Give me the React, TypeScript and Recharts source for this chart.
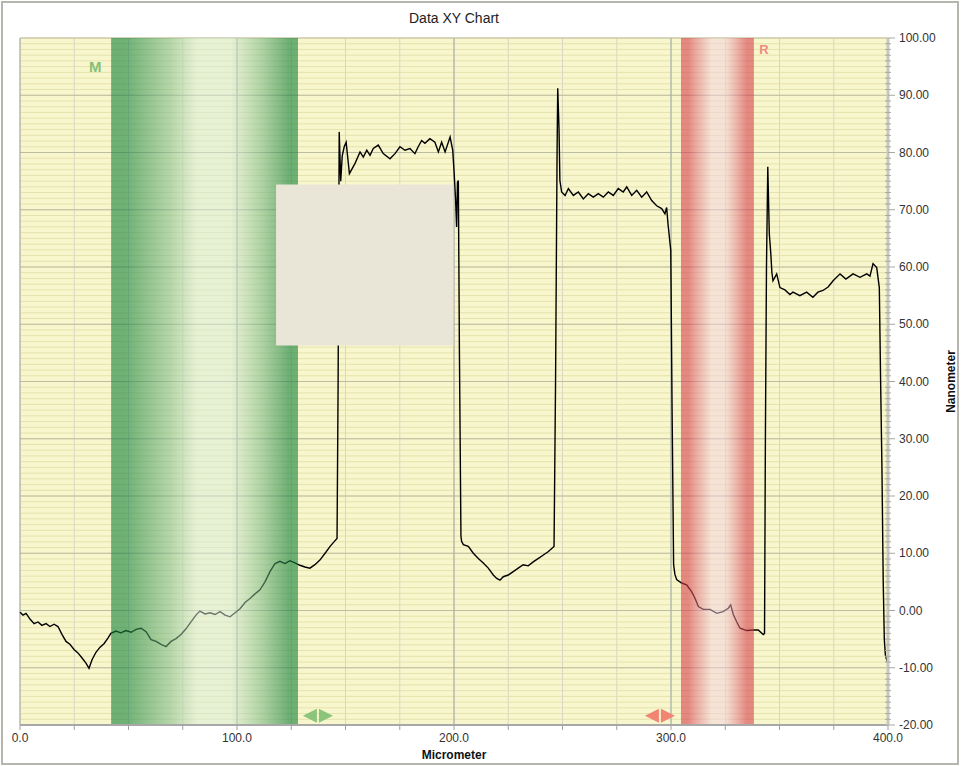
import { LineChart, Line, XAxis, YAxis, CartesianGrid, ReferenceArea, ReferenceDot } from "recharts";

// profile trace
const distance = [
  0.0, 1.4, 2.8, 4.6, 6.5, 8.3, 10.1, 12.0, 13.8, 15.7, 17.5, 19.4, 21.2, 23.0, 24.9, 26.7, 28.6, 30.4, 31.8, 33.2,
  35.0, 36.9, 38.7, 40.6, 41.9, 44.2, 46.5, 48.8, 51.2, 53.5, 55.8, 58.1, 60.4, 62.7, 65.0, 67.3, 69.6, 71.9, 74.2, 76.5,
  78.8, 81.1, 82.9, 85.3, 87.6, 89.9, 92.2, 94.5, 96.8, 99.1, 101.4, 103.7, 106.0, 108.3, 110.6, 112.9, 115.2, 117.5, 119.8, 122.1,
  124.4, 126.7, 129.0, 131.3, 133.6, 135.9, 138.2, 140.6, 142.9, 145.2, 146.1, 146.6, 147.1, 147.8, 148.5, 149.4, 150.3, 151.8, 154.4, 156.7,
  158.2, 159.8, 161.3, 162.8, 165.1, 167.4, 170.5, 172.8, 175.1, 177.4, 179.7, 182.0, 183.5, 185.1, 186.6, 188.9, 191.2, 192.8, 194.3, 195.9,
  198.2, 199.4, 200.0, 200.7, 201.2, 201.6, 202.0, 202.5, 203.2, 203.5, 204.3, 206.6, 208.9, 211.2, 213.5, 215.8, 218.1, 219.7, 221.2, 222.7,
  225.0, 227.3, 229.6, 231.9, 234.2, 236.5, 238.9, 241.2, 243.5, 245.3, 246.1, 246.8, 247.5, 247.8, 248.4, 248.8, 249.6, 251.2, 252.7, 255.0,
  257.3, 259.6, 261.9, 264.2, 266.5, 268.8, 271.1, 273.4, 275.7, 278.0, 279.6, 281.9, 284.2, 286.5, 288.8, 291.1, 293.4, 295.7, 297.2, 298.0,
  298.6, 299.9, 300.5, 301.2, 301.8, 302.6, 304.9, 307.2, 309.5, 311.1, 312.6, 314.9, 318.0, 321.1, 324.0, 326.4, 327.5, 328.7, 330.3, 331.8,
  334.9, 337.8, 340.2, 342.5, 343.1, 343.5, 344.0, 344.6, 345.3, 346.0, 346.5, 347.0, 348.7, 350.2, 352.5, 354.8, 356.2, 359.4, 362.5, 365.4,
  367.7, 370.0, 372.4, 374.7, 377.9, 380.6, 383.9, 387.1, 390.2, 391.7, 393.1, 394.8, 396.0, 396.6, 397.2, 397.8, 398.3, 398.8, 399.4, 400.0,
];
const height = [
  -0.3, -0.8, -0.5, -1.5, -2.3, -2.0, -2.6, -2.3, -2.8, -2.4, -2.8, -4.2, -5.4, -5.9, -6.8, -7.4, -8.3, -9.2, -10.1, -8.6,
  -7.3, -6.4, -5.8, -4.8, -4.0, -3.6, -3.9, -3.5, -3.8, -3.3, -3.1, -3.7, -5.1, -5.4, -5.9, -6.3, -5.4, -4.9, -4.2, -3.2,
  -2.0, -0.8, -0.1, -0.6, -0.4, -0.7, -0.2, -0.8, -1.1, -0.4, 0.3, 1.4, 2.1, 2.9, 3.6, 5.0, 6.8, 8.2, 8.6, 8.2,
  8.7, 8.3, 7.9, 7.6, 7.4, 8.0, 8.8, 10.0, 11.2, 12.2, 12.6, 40.0, 83.6, 75.0, 79.4, 81.0, 81.8, 76.3, 78.1, 80.1,
  79.2, 80.4, 79.5, 80.7, 81.3, 79.8, 78.9, 79.8, 81.0, 80.4, 80.7, 79.8, 81.0, 82.1, 81.6, 82.4, 81.8, 80.1, 81.8, 80.1,
  82.7, 80.4, 76.9, 72.0, 67.0, 74.8, 75.1, 45.0, 13.0, 12.1, 11.5, 11.2, 10.0, 9.1, 8.3, 7.4, 6.2, 5.6, 5.3, 5.9,
  6.2, 6.8, 7.4, 8.0, 7.8, 8.5, 9.1, 9.7, 10.3, 10.9, 11.2, 40.0, 80.0, 91.2, 84.0, 75.1, 73.1, 72.5, 73.7, 72.5,
  73.1, 71.9, 72.8, 72.2, 72.8, 72.2, 73.1, 72.5, 73.7, 73.1, 74.0, 72.5, 73.4, 72.2, 73.1, 71.6, 70.7, 70.2, 69.3, 70.4,
  67.6, 62.9, 35.0, 8.0, 6.3, 5.4, 4.8, 4.5, 3.3, 2.1, 0.7, 0.2, 0.2, -0.5, -0.2, 0.4, 1.0, -0.7, -2.0, -3.1,
  -3.5, -3.4, -3.4, -4.2, -4.0, 30.0, 60.0, 77.5, 65.8, 62.3, 59.0, 57.6, 58.8, 56.4, 56.0, 55.2, 55.6, 55.0, 55.6, 54.7,
  55.6, 55.9, 56.5, 57.6, 58.8, 57.9, 58.8, 58.2, 58.8, 58.4, 60.6, 59.9, 56.4, 40.0, 25.0, 5.0, -5.0, -7.8, -8.6, -9.2,
];

const xTicks = Array.from({ length: 17 }, (_, i) => i * 25);
const xMajor = [0, 100, 200, 300, 400];
const yTicks = Array.from({ length: 121 }, (_, i) => i - 20);
const yMajor = [-20, -10, 0, 10, 20, 30, 40, 50, 60, 70, 80, 90, 100];

// marker bands and handles
const markerM = [42.0, 128.1];
const markerR = [304.6, 338.2];
const handleM = 137.3;
const handleR = 294.9;
const handleLevel = -18.4;
// blank info panel
const panel = { x1: 118.0, x2: 199.7, y1: 46.3, y2: 74.4 };

const data = distance.map((x, i) => ({ x, y: height[i] }));

const FONT = '"Liberation Sans", Arial, sans-serif';

function YTick(props: any) {
  const { x, y, payload } = props;
  const v = payload.value;
  const major = v % 10 === 0;
  return (
    <g>
      <line x1={major ? x : x - 3} x2={major ? x + 7 : x + 3} y1={y} y2={y} stroke="#a8a8a0" strokeWidth={1} />
      {major && (
        <text x={x + 11} y={y} dy="0.35em" fontSize={12} fill="#333" fontFamily={FONT}>
          {v.toFixed(2)}
        </text>
      )}
    </g>
  );
}

function handleShape(color: string) {
  return (props: any) => {
    const { cx, cy } = props;
    return (
      <g>
        <polygon points={`${cx - 15},${cy} ${cx - 1},${cy - 7} ${cx - 1},${cy + 7}`} fill={color} />
        <polygon points={`${cx + 1},${cy - 7} ${cx + 15},${cy} ${cx + 1},${cy + 7}`} fill={color} />
      </g>
    );
  };
}

export default function App() {
  return (
    <div style={{ position: "absolute", left: 0, top: 0, width: 961, height: 766, background: "#fff", fontFamily: FONT }}>
      <div
        style={{
          position: "absolute",
          left: 1,
          top: 1,
          width: 958,
          height: 764,
          boxSizing: "border-box",
          border: "2px solid #b6b6ae",
          pointerEvents: "none",
        }}
      />
      <div style={{ position: "absolute", left: 0, top: 10, width: 908, textAlign: "center", fontSize: 14, lineHeight: "16px", color: "#222" }}>
        Data XY Chart
      </div>
      <LineChart width={961} height={766} data={data} margin={{ top: 38, left: 20, right: 0, bottom: 0 }} style={{ position: "absolute", left: 0, top: 0 }}>
        <defs>
          <linearGradient id="gradM" x1="0" y1="0" x2="1" y2="0">
            <stop offset="0" stopColor="#12803a" stopOpacity={0.6} />
            <stop offset="0.08" stopColor="#15823c" stopOpacity={0.6} />
            <stop offset="0.32" stopColor="#80bc8c" stopOpacity={0.55} />
            <stop offset="0.46" stopColor="#d6ecdc" stopOpacity={0.5} />
            <stop offset="0.64" stopColor="#d6ecdc" stopOpacity={0.5} />
            <stop offset="0.8" stopColor="#78b886" stopOpacity={0.55} />
            <stop offset="0.95" stopColor="#12803a" stopOpacity={0.6} />
            <stop offset="1" stopColor="#12803a" stopOpacity={0.6} />
          </linearGradient>
          <linearGradient id="gradR" x1="0" y1="0" x2="1" y2="0">
            <stop offset="0" stopColor="#d63a4a" stopOpacity={0.58} />
            <stop offset="0.1" stopColor="#d63a4a" stopOpacity={0.58} />
            <stop offset="0.42" stopColor="#f2d0e0" stopOpacity={0.5} />
            <stop offset="0.6" stopColor="#f2d0e0" stopOpacity={0.5} />
            <stop offset="0.9" stopColor="#d63a4a" stopOpacity={0.58} />
            <stop offset="1" stopColor="#d63a4a" stopOpacity={0.58} />
          </linearGradient>
        </defs>
        <CartesianGrid fill="#f8f6cc" stroke="#e6e2ae" vertical={false} horizontalValues={yTicks} />
        <CartesianGrid stroke="#d8d8c2" horizontal={false} verticalValues={xTicks} />
        <CartesianGrid stroke="#bcbca0" vertical={false} horizontalValues={yMajor} />
        <CartesianGrid stroke="#a4aaa0" horizontal={false} verticalValues={xMajor} />
        <XAxis
          dataKey="x"
          type="number"
          domain={[0, 400]}
          ticks={xTicks}
          interval={0}
          height={41}
          tickSize={5}
          tickMargin={3}
          tickFormatter={(v: number) => (v % 100 === 0 ? v.toFixed(1) : "")}
          tick={{ fontSize: 12, fill: "#333", fontFamily: FONT }}
          tickLine={{ stroke: "#a0a0a0" }}
          axisLine={{ stroke: "#a8a8a8", strokeWidth: 2 }}
          label={{
            content: (p: any) => (
              <text
                x={p.viewBox.x + p.viewBox.width / 2}
                y={p.viewBox.y + 34}
                textAnchor="middle"
                fontSize={12}
                fontWeight="bold"
                fill="#111"
                fontFamily={FONT}
              >
                Micrometer
              </text>
            ),
          }}
        />
        <YAxis
          orientation="right"
          type="number"
          domain={[-20, 100]}
          ticks={yTicks}
          interval={0}
          width={73}
          tickSize={0}
          tickMargin={0}
          tickLine={false}
          tick={<YTick />}
          axisLine={{ stroke: "#c8c8c0", strokeWidth: 3 }}
          label={{
            content: (p: any) => {
              const cx = p.viewBox.x + 63;
              const cy = p.viewBox.y + p.viewBox.height / 2;
              return (
                <text
                  x={cx}
                  y={cy}
                  transform={`rotate(-90 ${cx} ${cy})`}
                  textAnchor="middle"
                  dominantBaseline="central"
                  fontSize={12}
                  fontWeight="bold"
                  fill="#111"
                  fontFamily={FONT}
                >
                  Nanometer
                </text>
              );
            },
          }}
        />
        <Line type="linear" dataKey="y" stroke="#000" strokeWidth={1.4} dot={false} activeDot={false} isAnimationActive={false} />
        <ReferenceArea
          x1={markerM[0]}
          x2={markerM[1]}
          fill="url(#gradM)"
          fillOpacity={1}
          stroke="none"
          zIndex={450}
          label={{
            content: (p: any) => (
              <text x={p.viewBox.x - 16} y={p.viewBox.y + 34} textAnchor="middle" fontSize={15} fontWeight="bold" fill="#86bf76" fontFamily={FONT}>
                M
              </text>
            ),
          }}
        />
        <ReferenceArea
          x1={markerR[0]}
          x2={markerR[1]}
          fill="url(#gradR)"
          fillOpacity={1}
          stroke="none"
          zIndex={450}
          label={{
            content: (p: any) => (
              <text
                x={p.viewBox.x + p.viewBox.width + 10}
                y={p.viewBox.y + 16}
                textAnchor="middle"
                fontSize={13}
                fontWeight="bold"
                fill="#f08a80"
                fontFamily={FONT}
              >
                R
              </text>
            ),
          }}
        />
        <ReferenceArea x1={panel.x1} x2={panel.x2} y1={panel.y1} y2={panel.y2} fill="#e9e6d8" fillOpacity={1} stroke="none" zIndex={460} />
        <ReferenceDot x={handleM} y={handleLevel} r={8} shape={handleShape("#8cc47c")} zIndex={600} />
        <ReferenceDot x={handleR} y={handleLevel} r={8} shape={handleShape("#f28474")} zIndex={600} />
      </LineChart>
    </div>
  );
}
